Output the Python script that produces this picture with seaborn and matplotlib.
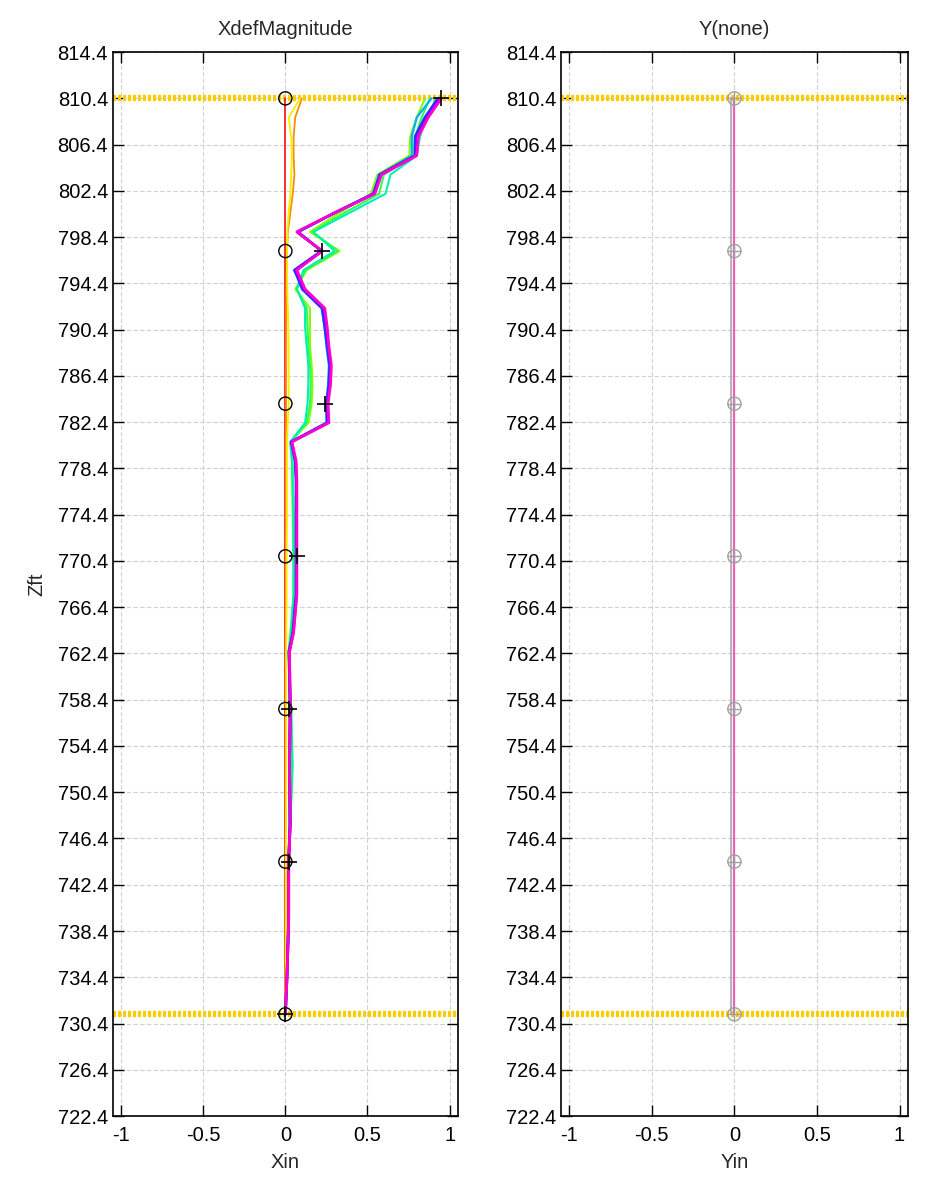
import numpy as np
import pandas as pd
import seaborn as sns
import matplotlib.pyplot as plt

sns.set_style("ticks")
plt.rcParams['font.family'] = ['Liberation Sans', 'DejaVu Sans']

# depth nodes (ft)
depth = [810.40, 808.75, 807.10, 805.45, 803.80, 802.15, 800.50, 798.85, 797.20,
         795.55, 793.90, 792.25, 790.60, 788.95, 787.30, 785.65, 784.00, 782.35,
         780.70, 779.05, 777.40, 774.10, 770.80, 767.50, 764.20, 762.55, 757.60,
         752.65, 747.70, 744.40, 739.45, 734.50, 731.20]

# X deflection profiles (in), oldest to newest
x_red = [0.0] * 33
x_orange = [0.10, 0.06, 0.05, 0.05, 0.055, 0.045, 0.03, 0.015, 0.01, 0.008, 0.006,
            0.005, 0.005, 0.005, 0.005, 0.004, 0.004, 0.004, 0.003, 0.003, 0.003,
            0.003, 0.003, 0.003, 0.003, 0.002, 0.002, 0.002, 0.002, 0.001, 0.001, 0.0, 0.0]
x_yellow = [0.09, 0.02, 0.035, 0.04, 0.035, 0.03, 0.02, 0.012, 0.01, 0.01, 0.012,
            0.015, 0.018, 0.02, 0.02, 0.02, 0.02, 0.015, 0.01, 0.01, 0.01, 0.01,
            0.008, 0.008, 0.006, 0.005, 0.005, 0.005, 0.004, 0.003, 0.003, 0.002, 0.0]
x_lime = [0.85, 0.80, 0.76, 0.755, 0.56, 0.52, 0.33, 0.15, 0.33, 0.13, 0.06, 0.15,
          0.15, 0.15, 0.16, 0.165, 0.16, 0.14, 0.03, 0.04, 0.04, 0.045, 0.05, 0.05,
          0.03, 0.02, 0.03, 0.04, 0.03, 0.02, 0.02, 0.01, 0.0]
x_green = [0.88, 0.83, 0.79, 0.78, 0.60, 0.57, 0.36, 0.165, 0.32, 0.12, 0.07, 0.13,
           0.135, 0.14, 0.15, 0.155, 0.15, 0.13, 0.035, 0.045, 0.045, 0.05, 0.05,
           0.05, 0.035, 0.02, 0.035, 0.045, 0.03, 0.02, 0.02, 0.01, 0.0]
x_aqua = [0.92, 0.86, 0.82, 0.80, 0.64, 0.61, 0.39, 0.17, 0.30, 0.11, 0.07, 0.12,
          0.12, 0.13, 0.14, 0.14, 0.135, 0.12, 0.03, 0.04, 0.045, 0.05, 0.05, 0.05,
          0.035, 0.02, 0.035, 0.04, 0.03, 0.02, 0.02, 0.01, 0.0]
x_azure = [0.89, 0.80, 0.77, 0.77, 0.57, 0.54, 0.30, 0.08, 0.22, 0.06, 0.10, 0.22,
           0.24, 0.25, 0.265, 0.26, 0.25, 0.25, 0.035, 0.06, 0.065, 0.065, 0.065,
           0.065, 0.045, 0.02, 0.03, 0.025, 0.025, 0.02, 0.02, 0.01, 0.0]
x_blue = [0.93, 0.85, 0.79, 0.79, 0.575, 0.535, 0.30, 0.075, 0.22, 0.055, 0.105,
          0.225, 0.24, 0.255, 0.27, 0.265, 0.25, 0.255, 0.035, 0.06, 0.065, 0.065,
          0.065, 0.065, 0.045, 0.022, 0.028, 0.025, 0.028, 0.02, 0.02, 0.01, 0.0]
x_violet = [0.94, 0.86, 0.80, 0.795, 0.58, 0.54, 0.30, 0.072, 0.222, 0.062, 0.11,
            0.232, 0.248, 0.26, 0.275, 0.27, 0.255, 0.26, 0.038, 0.062, 0.068, 0.068,
            0.068, 0.068, 0.048, 0.024, 0.03, 0.025, 0.03, 0.02, 0.02, 0.01, 0.0]
x_magenta = [0.95, 0.87, 0.81, 0.80, 0.585, 0.545, 0.30, 0.07, 0.225, 0.07, 0.12,
             0.24, 0.255, 0.265, 0.28, 0.275, 0.26, 0.265, 0.04, 0.065, 0.07, 0.07,
             0.07, 0.07, 0.05, 0.025, 0.03, 0.025, 0.03, 0.02, 0.02, 0.01, 0.0]

series = [x_red, x_orange, x_yellow, x_lime, x_green, x_aqua, x_azure, x_blue, x_violet, x_magenta]
colors = ['#ff2020', '#ff8c00', '#f0f000', '#80ff00', '#30ff50', '#00f0b0',
          '#00b0ff', '#0040ff', '#9000ff', '#ff00d0']
widths = [1.3, 1.3, 1.3, 1.5, 1.5, 1.5, 1.6, 2.0, 2.0, 2.0]

# marker depths: initial (circle) and latest (plus)
mark_depth = [810.4, 797.2, 784.0, 770.8, 757.6, 744.4, 731.2]
mark_init = [0.0, 0.0, 0.0, 0.0, 0.0, 0.0, 0.0]
mark_last = [0.95, 0.225, 0.24, 0.07, 0.02, 0.02, 0.0]

# Y direction (none)
y_depth = [810.4, 731.2]
y_last = [0.0, 0.0]
y_init = [-0.02, -0.02]

ref_depths = [810.4, 731.2]  # top / bottom of casing

yticks = [722.4, 726.4, 730.4, 734.4, 738.4, 742.4, 746.4, 750.4, 754.4, 758.4,
          762.4, 766.4, 770.4, 774.4, 778.4, 782.4, 786.4, 790.4, 794.4, 798.4,
          802.4, 806.4, 810.4, 814.4]
xticks = [-1, -0.5, 0, 0.5, 1]
xticklabels = ['-1', '-0.5', '0', '0.5', '1']

fig = plt.figure(figsize=(9.32, 11.84), dpi=100)
ax1 = fig.add_axes([0.1212, 0.0574, 0.370, 0.8986])
ax2 = fig.add_axes([0.602, 0.0574, 0.372, 0.8986])


def style_axes(ax, title):
    ax.set_xlim(-1.05, 1.05)
    ax.set_ylim(722.4, 814.4)
    ax.set_yticks(yticks)
    ax.set_yticklabels([f'{t:.1f}' for t in yticks])
    ax.set_xticks(xticks)
    ax.set_xticklabels(xticklabels)
    ax.grid(True, color='#d0d0d0', linestyle=(0, (4, 2)), linewidth=0.8)
    ax.set_axisbelow(True)
    ax.tick_params(direction='in', length=8, width=1, top=True, right=True,
                   labelsize=14.5, colors='black')
    ax.tick_params(axis='x', pad=7)
    for s in ax.spines.values():
        s.set_visible(True)
        s.set_linewidth(1.2)
        s.set_color('black')
    ax.set_title(title, fontsize=14.5, pad=12)
    for d in ref_depths:
        ax.axhline(d, color='#ffcc00', linewidth=4.5, linestyle=(0, (0.5, 0.3)), zorder=1)


style_axes(ax1, 'XdefMagnitude')
style_axes(ax2, 'Y(none)')

for vals, c, w in zip(series, colors, widths):
    df = pd.DataFrame({'x': vals, 'z': depth})
    sns.lineplot(data=df, x='x', y='z', sort=False, estimator=None, orient='y',
                 color=c, linewidth=w, ax=ax1, zorder=3)

mk = pd.DataFrame({'init': mark_init, 'last': mark_last, 'z': mark_depth})
sns.scatterplot(data=mk, x='init', y='z', marker='o', s=90, facecolor='none',
                edgecolor='black', linewidth=1, ax=ax1, zorder=5)
sns.scatterplot(data=mk, x='last', y='z', marker='+', s=130, color='black',
                linewidth=1.2, ax=ax1, zorder=5)
ax1.set_xlabel('Xin', fontsize=14.5, labelpad=6)
ax1.set_ylabel('Zft', fontsize=14.5, labelpad=8)

dy = pd.DataFrame({'init': y_init, 'last': y_last, 'z': y_depth})
sns.lineplot(data=dy, x='init', y='z', sort=False, estimator=None, orient='y',
             color='#a8a8a8', linewidth=1.2, ax=ax2, zorder=3)
sns.lineplot(data=dy, x='last', y='z', sort=False, estimator=None, orient='y',
             color='#f060b8', linewidth=1.6, ax=ax2, zorder=3)
sns.scatterplot(data=mk, x='init', y='z', marker='o', s=90, facecolor='none',
                edgecolor='#a0a0a0', linewidth=1, ax=ax2, zorder=5)
sns.scatterplot(data=mk, x='init', y='z', marker='+', s=90, color='#a0a0a0',
                linewidth=1, ax=ax2, zorder=5)
ax2.set_xlabel('Yin', fontsize=14.5, labelpad=6)
ax2.set_ylabel('')

fig.savefig('out.png', dpi=100)
